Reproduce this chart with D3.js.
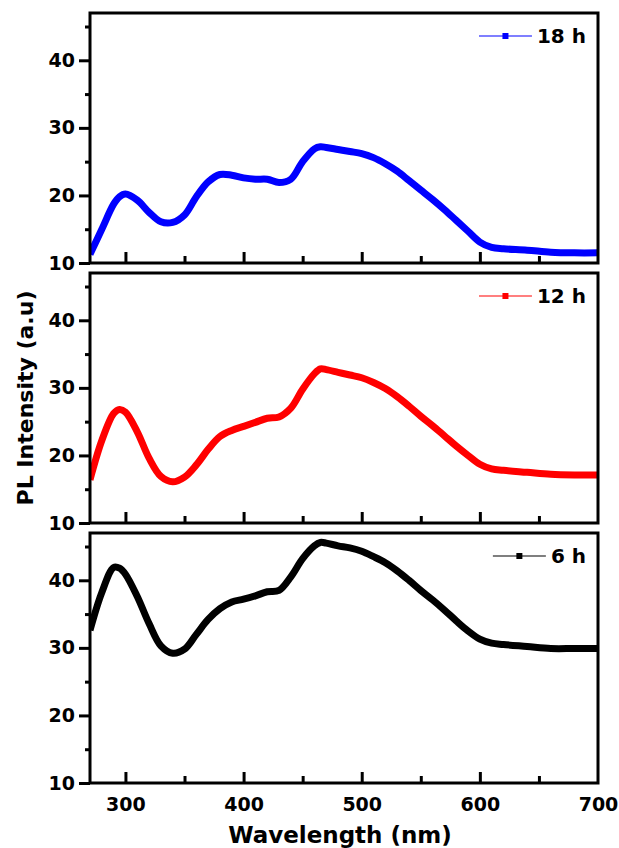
<!DOCTYPE html>
<html>
<head>
<meta charset="utf-8">
<script src="https://cdn.jsdelivr.net/npm/d3@7"></script>
<style>
  body { margin: 0; background: #fff; }
  text { font-family: "DejaVu Sans", sans-serif; font-weight: bold; fill: #000; }
</style>
</head>
<body>
<svg id="chart" width="619" height="848"></svg>
<script>
// wavelength grid (nm)
var wavelengths = [270, 280, 290, 295, 300, 310, 320, 330, 340, 350, 360, 370, 380, 390, 400, 410, 420, 430, 440, 450,
                   460, 465, 470, 480, 490, 500, 510, 520, 530, 540, 550, 560, 570, 580, 590, 600, 610, 620, 640, 660, 680, 700];

// PL intensity
var pl18h = [11.3, 15.0, 18.7, 19.8, 20.2, 19.3, 17.5, 16.1, 16.0, 17.1, 19.8, 22.0, 23.1, 23.0, 22.6, 22.4, 22.4, 21.9, 22.4, 25.0,
             26.9, 27.2, 27.1, 26.8, 26.5, 26.2, 25.6, 24.7, 23.6, 22.2, 20.8, 19.4, 17.9, 16.3, 14.7, 13.1, 12.3, 12.1, 11.9, 11.6, 11.5, 11.5];
var pl12h = [16.4, 22.2, 26.2, 26.8, 26.4, 23.5, 19.6, 16.9, 16.1, 16.8, 18.6, 20.9, 22.8, 23.7, 24.3, 24.9, 25.5, 25.7, 27.0, 29.8,
             32.1, 32.8, 32.7, 32.3, 31.9, 31.5, 30.8, 29.9, 28.7, 27.3, 25.8, 24.4, 22.9, 21.4, 20.0, 18.7, 18.0, 17.8, 17.5, 17.2, 17.1, 17.1];
var pl6h  = [32.6, 38.2, 41.9, 41.8, 40.9, 37.6, 33.6, 30.3, 29.2, 29.8, 32.0, 34.2, 35.8, 36.8, 37.2, 37.7, 38.3, 38.5, 40.5, 43.2,
             45.1, 45.6, 45.5, 45.1, 44.8, 44.3, 43.5, 42.6, 41.4, 40.0, 38.5, 37.1, 35.6, 34.0, 32.5, 31.3, 30.7, 30.5, 30.2, 29.9, 29.9, 29.9];

var seriesNames = ["18 h", "12 h", "6 h"];
var seriesColors = ["#0000ff", "#ff0000", "#000000"];

var xMajor = [300, 400, 500, 600, 700],
    xMinor = [350, 450, 550, 650],
    yMajor = [10, 20, 30, 40],
    yMinor = [15, 25, 35, 45];

var panels = [pl18h, pl12h, pl6h].map(function(vals, i) {
  return {
    name: seriesNames[i],
    color: seriesColors[i],
    values: wavelengths.map(function(w, j) { return {w: w, v: vals[j]}; })
  };
});

var svg = d3.select("#chart"),
    margin = {top: 13, left: 90, right: 21},
    panelH = 250,
    gap = 10,
    width = +svg.attr("width") - margin.left - margin.right;

var x = d3.scaleLinear().domain([270, 700]).range([0, width]);
var y = d3.scaleLinear().domain([10, 47]).range([panelH, 0]);

var line = d3.line()
    .curve(d3.curveCatmullRom.alpha(0.5))
    .x(function(d) { return x(d.w); })
    .y(function(d) { return y(d.v); });

panels.forEach(function(p, i) {
  var top = margin.top + i * (panelH + gap);
  var g = svg.append("g").attr("transform", "translate(" + margin.left + "," + top + ")");

  g.append("clipPath").attr("id", "clip" + i)
    .append("rect").attr("width", width).attr("height", panelH);

  g.append("path")
      .datum(p.values)
      .attr("clip-path", "url(#clip" + i + ")")
      .attr("fill", "none")
      .attr("stroke", p.color)
      .attr("stroke-width", 7)
      .attr("stroke-linejoin", "round")
      .attr("d", line);

  // y axis, ticks pointing out
  var ya = g.append("g").attr("class", "axis")
      .call(d3.axisLeft(y).tickValues(yMajor).tickSize(11).tickPadding(4));
  g.append("g").attr("class", "axis")
      .call(d3.axisLeft(y).tickValues(yMinor).tickSize(5).tickFormat(""));

  // x axis along the bottom edge, ticks pointing in
  g.append("g").attr("class", "axis")
      .attr("transform", "translate(0," + panelH + ")")
      .call(d3.axisBottom(x).tickValues(xMajor.slice(0, 4)).tickSizeInner(-11).tickSizeOuter(0).tickFormat(""));
  g.append("g").attr("class", "axis")
      .attr("transform", "translate(0," + panelH + ")")
      .call(d3.axisBottom(x).tickValues(xMinor).tickSizeInner(-7).tickSizeOuter(0).tickFormat(""));

  if (i == panels.length - 1) {
    g.append("g").attr("class", "axis")
        .attr("transform", "translate(0," + panelH + ")")
        .call(d3.axisBottom(x).tickValues(xMajor).tickSize(0).tickPadding(15));
  }

  g.append("rect")
      .attr("width", width)
      .attr("height", panelH)
      .attr("fill", "none")
      .attr("stroke", "#000")
      .attr("stroke-width", 3);

  // legend
  var ly = 23;
  var lt = g.append("text")
      .attr("x", width - 12)
      .attr("y", ly)
      .attr("dy", "0.36em")
      .attr("text-anchor", "end")
      .style("font-size", "20px")
      .text(p.name);
  var tx = width - 12 - lt.node().getComputedTextLength();
  g.append("line")
      .attr("x1", tx - 58).attr("x2", tx - 5)
      .attr("y1", ly).attr("y2", ly)
      .attr("stroke", p.color)
      .attr("stroke-width", 1.2);
  g.append("rect")
      .attr("x", tx - 34.5).attr("y", ly - 3)
      .attr("width", 6).attr("height", 6)
      .attr("fill", p.color);
});

svg.selectAll(".axis path").remove();
svg.selectAll(".axis line").attr("stroke", "#000").attr("stroke-width", 3);
svg.selectAll(".axis text")
    .style("font-family", "'DejaVu Sans', sans-serif")
    .style("font-weight", "bold")
    .style("font-size", "19px")
    .attr("fill", "#000");

svg.append("text")
    .attr("transform", "translate(33," + (margin.top + (3 * panelH + 2 * gap) / 2) + ") rotate(-90)")
    .attr("text-anchor", "middle")
    .style("font-size", "22px")
    .text("PL Intensity (a.u)");

svg.append("text")
    .attr("x", margin.left + width / 2 - 4)
    .attr("y", 843)
    .attr("text-anchor", "middle")
    .style("font-size", "23px")
    .text("Wavelength (nm)");
</script>
</body>
</html>
